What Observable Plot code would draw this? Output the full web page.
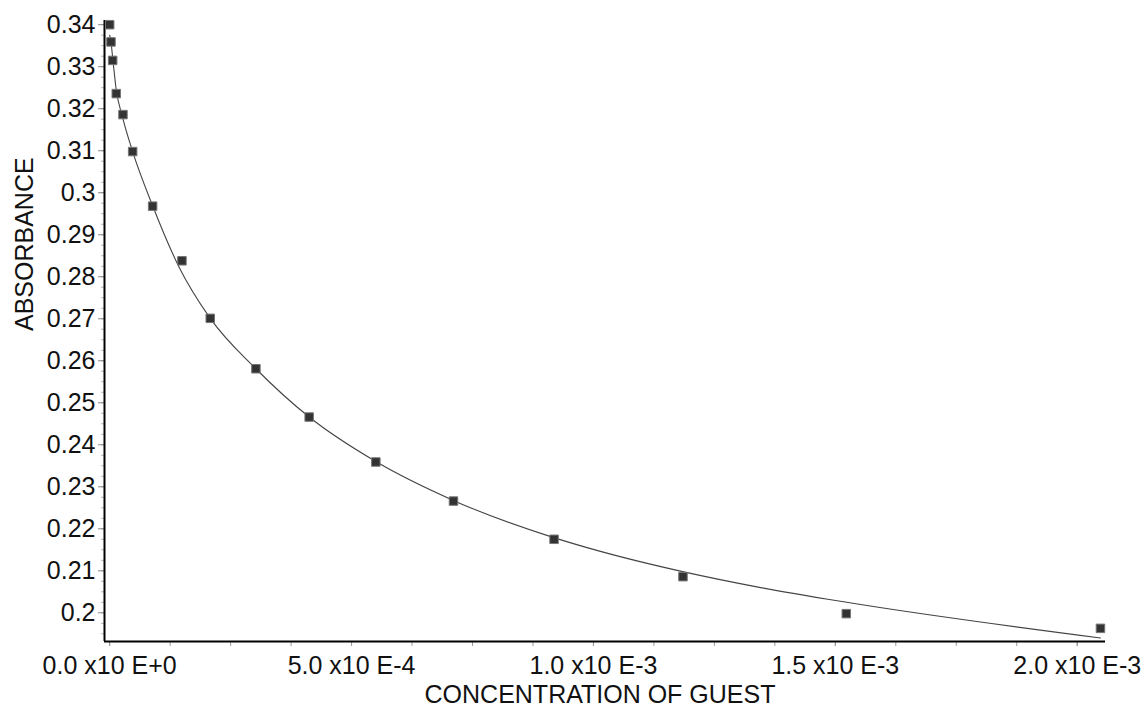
<!DOCTYPE html>
<html>
<head>
<meta charset="utf-8">
<script src="https://cdn.jsdelivr.net/npm/d3@7"></script>
<script src="https://cdn.jsdelivr.net/npm/@observablehq/plot@0.6"></script>
<style>
  body { margin: 0; background: #fff; }
  svg { display: block; }
</style>
</head>
<body>
<div id="chart"></div>
<script>
// Titration points: guest concentration (M) and measured absorbance
const concentration = [0, 2.7e-6, 6.2e-6, 1.36e-5, 2.75e-5, 4.75e-5, 8.88e-5, 1.494e-4, 2.079e-4,
  3.023e-4, 4.124e-4, 5.502e-4, 7.107e-4, 9.186e-4, 1.1851e-3, 1.5227e-3, 2.0481e-3];
const absorbance = [0.3400, 0.3359, 0.3315, 0.3236, 0.3186, 0.3098, 0.2968, 0.2838, 0.2701,
  0.2581, 0.2466, 0.2359, 0.2266, 0.2175, 0.2086, 0.1998, 0.1963];

// Fitted binding curve, sampled along the concentration range
const fitConcentration = [0, 2.7e-6, 6.8e-6, 1.30e-5, 2.75e-5, 4.75e-5, 8.88e-5, 1.417e-4, 2.079e-4,
  3.023e-4, 4.124e-4, 5.502e-4, 7.114e-4, 9.18e-4, 1.0089e-3, 1.1845e-3, 1.3457e-3, 1.5233e-3, 2.0481e-3];
const fitAbsorbance = [0.3375, 0.3358, 0.3315, 0.3250, 0.3176, 0.3098, 0.2969, 0.2827, 0.2701,
  0.2581, 0.2466, 0.2360, 0.2267, 0.2179, 0.2148, 0.2098, 0.2060, 0.2025, 0.1940];

// Axis ticks and their labels
const xTicks = [0, 5e-4, 1e-3, 1.5e-3, 2e-3];
const xTickLabels = ["0.0 x10 E+0", "5.0 x10 E-4", "1.0 x10 E-3", "1.5 x10 E-3", "2.0 x10 E-3"];
const yTicks = [0.34, 0.33, 0.32, 0.31, 0.30, 0.29, 0.28, 0.27, 0.26, 0.25, 0.24, 0.23, 0.22, 0.21, 0.20];
const yTickLabels = ["0.34", "0.33", "0.32", "0.31", "0.3", "0.29", "0.28", "0.27", "0.26", "0.25",
  "0.24", "0.23", "0.22", "0.21", "0.2"];
const xTitle = "CONCENTRATION OF GUEST";
const yTitle = "ABSORBANCE";

const points = concentration.map((c, i) => ({c, a: absorbance[i]}));
const fit = fitConcentration.map((c, i) => ({c, a: fitAbsorbance[i]}));

// Minor tick grids: quarter steps between labelled ticks
const xMinor = d3.range(0, 17).map(i => i * 1.25e-4);
const yMinor = d3.range(78, 137).map(i => i * 0.0025);

const xDomain = [-1.07e-5, 2.0585e-3];
const yDomain = [0.19317, 0.341];
const font = "'Liberation Sans', Arial, sans-serif";
const ink = "#111";

const chart = Plot.plot({
  width: 1147,
  height: 706,
  marginLeft: 104,
  marginRight: 42,
  marginTop: 20,
  marginBottom: 65,
  style: {fontFamily: font, fontSize: "25px", background: "#fff", color: ink},
  x: {domain: xDomain, label: null},
  y: {domain: yDomain, label: null},
  marks: [
    // minor ticks
    Plot.axisX(xMinor, {tickSize: 5, stroke: "#9a9a9a", tickFormat: () => "", label: null}),
    Plot.axisY(yMinor, {tickSize: 3, stroke: "#b5b5b5", tickFormat: () => "", label: null}),
    // labelled ticks
    Plot.axisX(xTicks, {
      tickSize: 5, tickPadding: 10, stroke: "#9a9a9a", fill: ink, fontSize: 25,
      tickFormat: d => xTickLabels[xTicks.indexOf(d)], label: null
    }),
    Plot.axisY(yTicks, {
      tickSize: 6, tickPadding: 3, stroke: "#8a8a8a", fill: ink, fontSize: 25,
      tickFormat: d => yTickLabels[yTicks.indexOf(d)], label: null
    }),
    // axis lines
    Plot.ruleX([xDomain[0]], {stroke: "#000", strokeWidth: 2}),
    Plot.ruleY([yDomain[0]], {stroke: "#000", strokeWidth: 2}),
    // fitted curve
    Plot.line(fit, {x: "c", y: "a", curve: "monotone-x", stroke: "#444", strokeWidth: 1.1}),
    // measured points
    Plot.dot(points, {x: "c", y: "a", symbol: "square", r: 4.8, fill: "#333", stroke: "#777", strokeWidth: 1}),
    // axis titles
    Plot.text([xTitle], {frameAnchor: "bottom", lineAnchor: "bottom", dy: 61, dx: -5, fontSize: 25, fill: ink}),
    Plot.text([yTitle], {frameAnchor: "left", rotate: -90, dx: -80, fontSize: 25, fill: ink})
  ]
});

document.getElementById("chart").append(chart);
</script>
</body>
</html>
